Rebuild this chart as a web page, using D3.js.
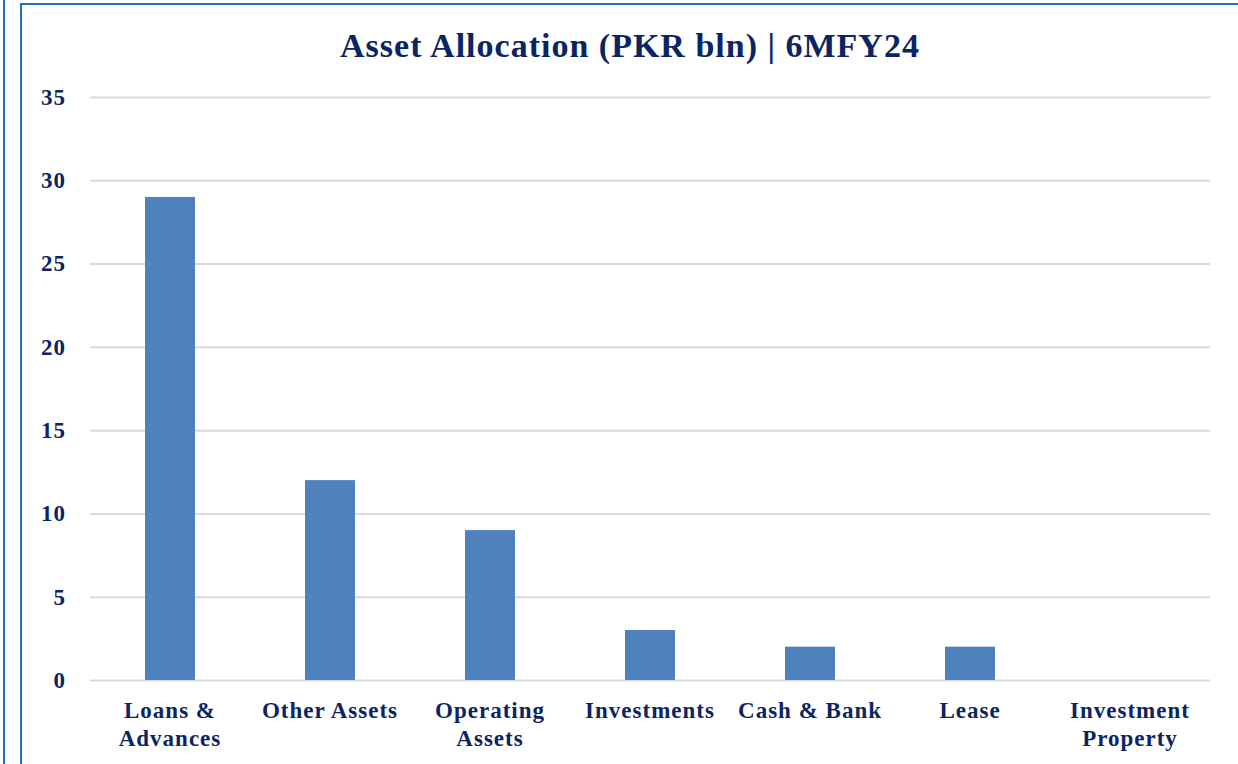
<!DOCTYPE html>
<html>
<head>
<meta charset="utf-8">
<script src="https://cdn.jsdelivr.net/npm/d3@7"></script>
<style>
  html, body { margin: 0; padding: 0; background: #fff; }
  svg { display: block; }
</style>
</head>
<body>
<div id="chart"></div>
<script>
/* -----------------------
data
------------------------- */
var categories = ["Loans & Advances", "Other Assets", "Operating Assets", "Investments", "Cash & Bank", "Lease", "Investment Property"];
var values = [29, 12, 9, 3, 2, 2, 0];
var yTicks = [0, 5, 10, 15, 20, 25, 30, 35];
var title = "Asset Allocation (PKR bln) | 6MFY24";

/* -----------------------
main variables
------------------------- */
var width = 1238, height = 764;
var margin = {top: 97, right: 28, bottom: 84, left: 90};
var plotW = width - margin.left - margin.right,
    plotH = height - margin.top - margin.bottom;

var navy = "#0b2463", barColor = "#4f81bd", frame = "#1f73c0";
var font = "'Liberation Serif', 'DejaVu Serif', serif";

var svg = d3.select("#chart").append("svg")
    .attr("width", width)
    .attr("height", height);

// frame lines (left edge of neighbour + this chart's box)
svg.append("line").attr("x1", 4).attr("x2", 4).attr("y1", 0).attr("y2", height)
    .attr("stroke", frame).attr("stroke-width", 2);
svg.append("path")
    .attr("d", "M21," + height + " V4 H" + width)
    .attr("fill", "none").attr("stroke", frame).attr("stroke-width", 2);

svg.append("text")
    .attr("x", 630).attr("y", 57)
    .attr("text-anchor", "middle")
    .attr("font-family", font).attr("font-weight", "bold")
    .attr("font-size", 34).attr("letter-spacing", 1)
    .attr("fill", navy)
    .text(title);

var plot = svg.append("g")
    .attr("transform", "translate(" + margin.left + "," + margin.top + ")");

var x = d3.scaleBand().domain(categories).range([0, plotW]).paddingInner(0.6875).paddingOuter(0.34375);
var y = d3.scaleLinear().domain([0, 35]).range([plotH, 0]);

// gridlines
plot.append("g")
    .call(d3.axisLeft(y).tickValues(yTicks).tickSize(-plotW).tickFormat(""))
    .call(function(g){ g.select(".domain").remove(); })
    .selectAll("line").attr("stroke", "#d9d9d9").attr("stroke-width", 2);

// y labels
var yAx = plot.append("g")
    .call(d3.axisLeft(y).tickValues(yTicks).tickSize(0).tickPadding(24));
yAx.select(".domain").remove();
yAx.selectAll("text")
    .attr("font-family", font).attr("font-weight", "bold")
    .attr("font-size", 23).attr("letter-spacing", 1).attr("fill", navy);

// bars
plot.selectAll("rect.bar").data(values).enter().append("rect")
    .attr("class", "bar")
    .attr("x", function(d, i){ return x(categories[i]); })
    .attr("y", function(d){ return y(d); })
    .attr("width", x.bandwidth())
    .attr("height", function(d){ return plotH - y(d); })
    .attr("fill", barColor);

// x labels, wrapped
var xAx = plot.append("g")
    .attr("transform", "translate(0," + plotH + ")")
    .call(d3.axisBottom(x).tickSize(0).tickPadding(0));
xAx.select(".domain").remove();
xAx.selectAll("text")
    .attr("font-family", font).attr("font-weight", "bold")
    .attr("font-size", 23).attr("letter-spacing", 1).attr("fill", navy)
    .attr("dy", null).attr("y", 0)
    .each(function(){ wrap(d3.select(this), 150); });

function wrap(t, maxW) {
    var words = t.text().split(" "), line = [], lines = [];
    t.text("");
    var probe = t.append("tspan");
    words.forEach(function(w){
        line.push(w);
        probe.text(line.join(" "));
        if (probe.node().getComputedTextLength() > maxW && line.length > 1) {
            line.pop();
            lines.push(line.join(" "));
            line = [w];
        }
    });
    lines.push(line.join(" "));
    probe.remove();
    lines.forEach(function(l, i){
        t.append("tspan").attr("x", 0).attr("y", 38 + i * 28).text(l);
    });
}
</script>
</body>
</html>
